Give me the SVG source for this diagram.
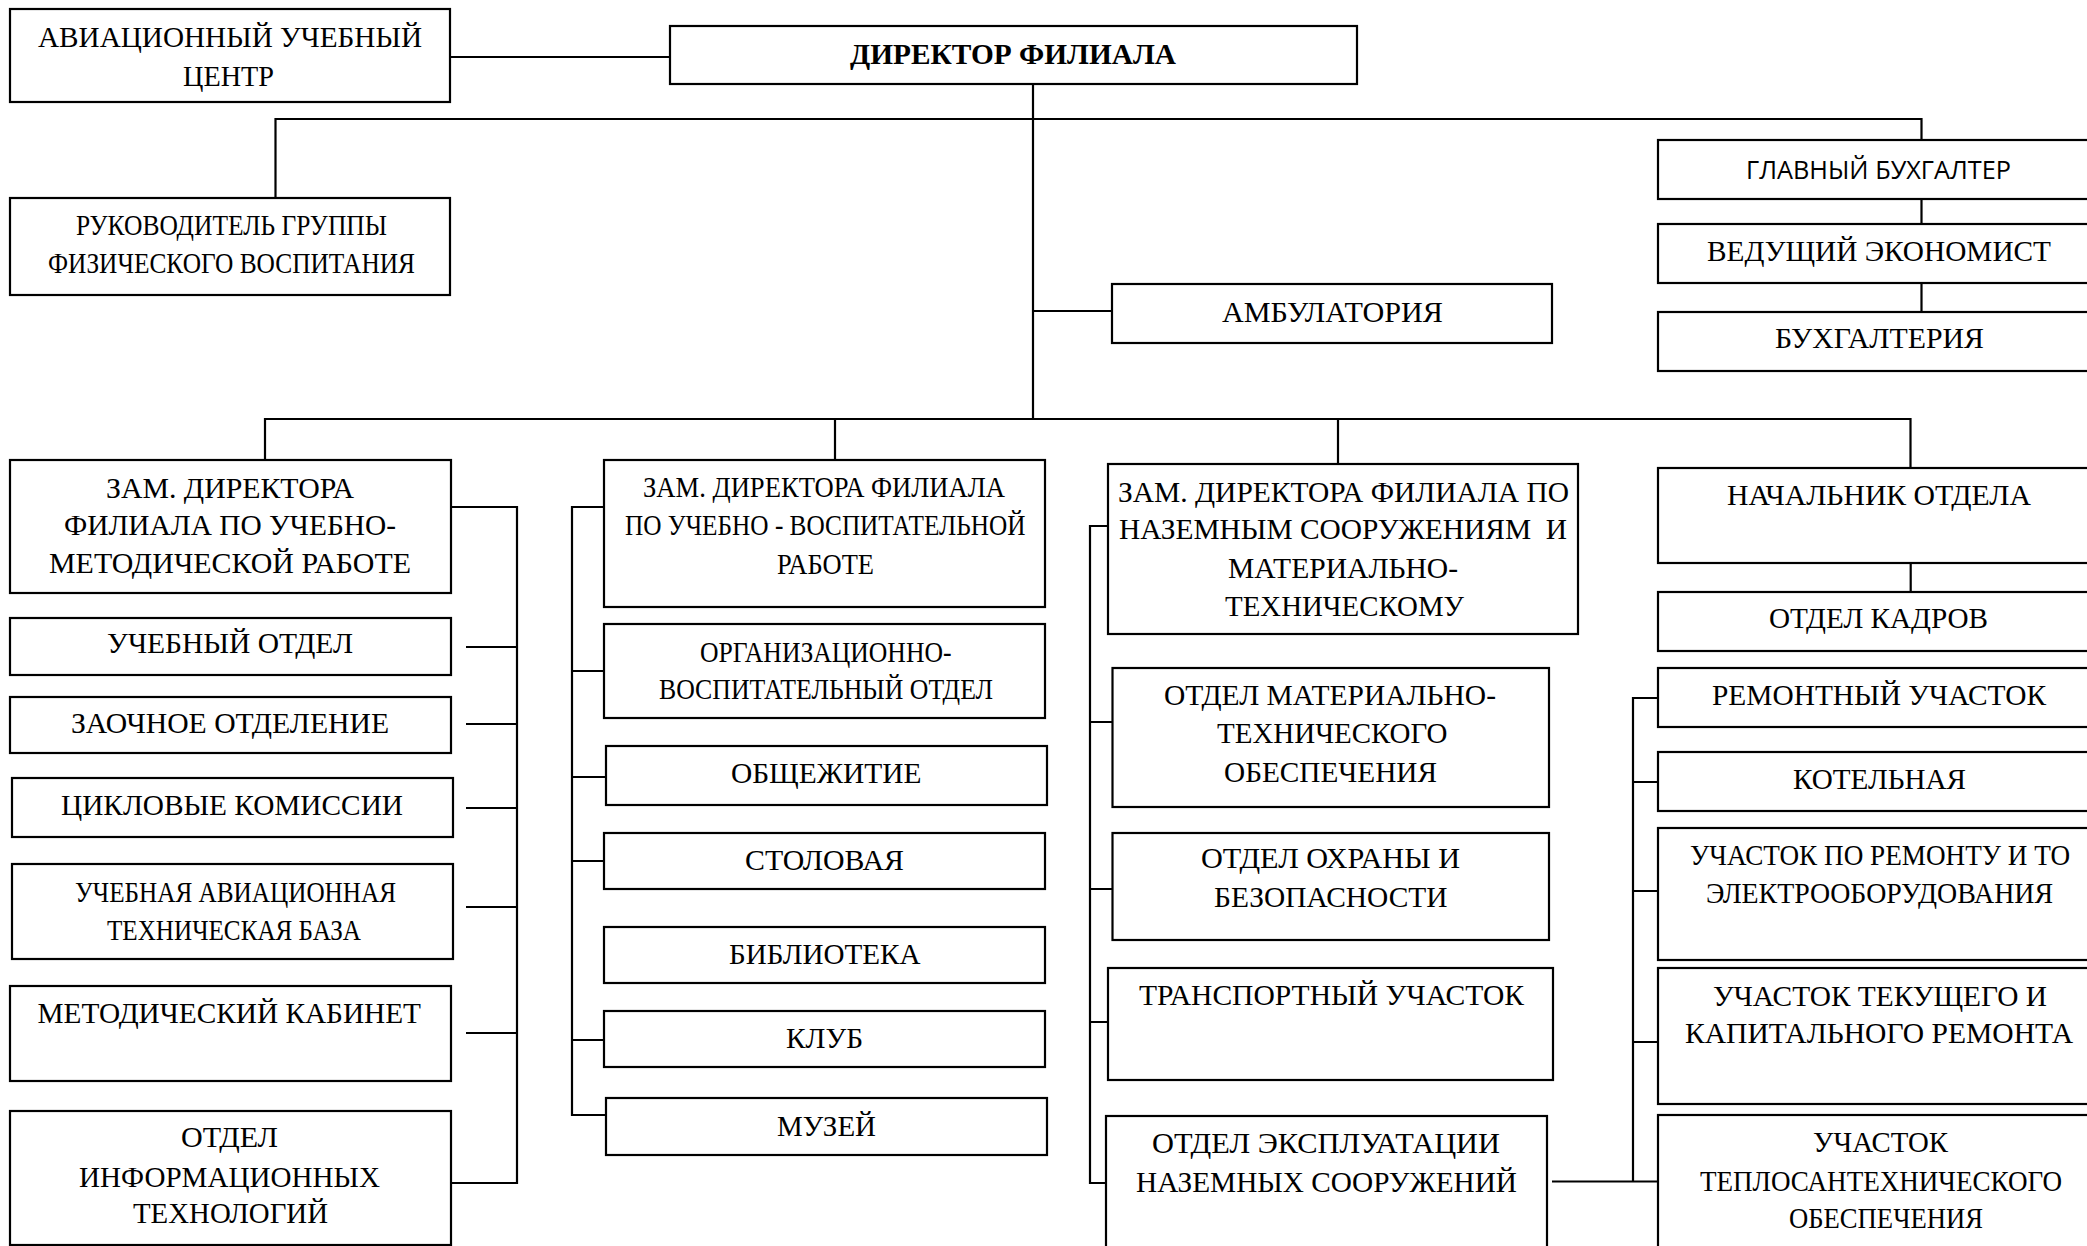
<svg xmlns="http://www.w3.org/2000/svg" width="2087" height="1246" viewBox="0 0 2087 1246">
<style>
.b{fill:#fff;stroke:#000;stroke-width:2.2}
.c{fill:none;stroke:#000;stroke-width:2.2}
text{font-family:"Liberation Serif","Times New Roman",serif;font-size:29.5px;fill:#000}
.bold{font-weight:bold}
.sans{font-family:"Open Sans","Liberation Sans",sans-serif;font-size:25px}
</style>
<rect x="0" y="0" width="2087" height="1246" fill="#fff"/>
<g id="connectors">
<path class="c" d="M450,57 H670"/>
<path class="c" d="M1033,84 V419"/>
<path class="c" d="M275.5,198 V119 H1921.5 V140"/>
<path class="c" d="M1033,311 H1112"/>
<path class="c" d="M1921.5,199 V224 M1921.5,283 V312"/>
<path class="c" d="M265,460 V419 H1910.5 V468 M835,419 V460 M1338,419 V464"/>
<path class="c" d="M451,507 H517 V1183 H451 M466,647 H517 M466,724 H517 M466,808 H517 M466,907 H517 M466,1033 H517"/>
<path class="c" d="M604,507 H572 V1115 H606 M572,671 H604 M572,777 H606 M572,861 H604 M572,1040 H604"/>
<path class="c" d="M1108,526 H1090 V1183 H1106 M1090,722 H1112.5 M1090,889 H1112.5 M1090,1022 H1124"/>
<path class="c" d="M1910.7,563 V592"/>
<path class="c" d="M1552,1181.5 H1658 M1658,698 H1633 V1181.5 M1633,782 H1658 M1633,891 H1658 M1633,1042 H1658"/>
</g>
<g id="n_auc"><rect class="b" x="10" y="9" width="440" height="93"/>
<text x="38" y="47" textLength="384" lengthAdjust="spacingAndGlyphs">АВИАЦИОННЫЙ УЧЕБНЫЙ</text>
<text x="183" y="86" textLength="91" lengthAdjust="spacingAndGlyphs">ЦЕНТР</text></g>
<g id="n_rgfv"><rect class="b" x="10" y="198" width="440" height="97"/>
<text x="76" y="235" textLength="311" lengthAdjust="spacingAndGlyphs">РУКОВОДИТЕЛЬ ГРУППЫ</text>
<text x="48" y="273" textLength="367" lengthAdjust="spacingAndGlyphs">ФИЗИЧЕСКОГО ВОСПИТАНИЯ</text></g>
<g id="n_dir"><rect class="b" x="670" y="26" width="687" height="58"/>
<text class="bold" x="850" y="64" textLength="326" lengthAdjust="spacingAndGlyphs">ДИРЕКТОР ФИЛИАЛА</text></g>
<g id="n_amb"><rect class="b" x="1112" y="284" width="440" height="59"/>
<text x="1222" y="322" textLength="221" lengthAdjust="spacingAndGlyphs">АМБУЛАТОРИЯ</text></g>
<g id="n_gb"><rect class="b" x="1658" y="140" width="442" height="59"/>
<text class="sans" x="1746" y="179" textLength="265" lengthAdjust="spacingAndGlyphs">ГЛАВНЫЙ БУХГАЛТЕР</text></g>
<g id="n_ve"><rect class="b" x="1658" y="224" width="442" height="59"/>
<text x="1707" y="261" textLength="344" lengthAdjust="spacingAndGlyphs">ВЕДУЩИЙ ЭКОНОМИСТ</text></g>
<g id="n_buh"><rect class="b" x="1658" y="312" width="442" height="59"/>
<text x="1775" y="348" textLength="209" lengthAdjust="spacingAndGlyphs">БУХГАЛТЕРИЯ</text></g>

<g id="n_zam1"><rect class="b" x="10" y="460" width="441" height="133"/>
<text x="106" y="498" textLength="248" lengthAdjust="spacingAndGlyphs">ЗАМ. ДИРЕКТОРА</text>
<text x="64" y="535" textLength="332" lengthAdjust="spacingAndGlyphs">ФИЛИАЛА ПО УЧЕБНО-</text>
<text x="49" y="573" textLength="362" lengthAdjust="spacingAndGlyphs">МЕТОДИЧЕСКОЙ РАБОТЕ</text></g>
<g id="n_uo"><rect class="b" x="10" y="618" width="441" height="57"/>
<text x="107" y="653" textLength="246" lengthAdjust="spacingAndGlyphs">УЧЕБНЫЙ ОТДЕЛ</text></g>
<g id="n_zo"><rect class="b" x="10" y="697" width="441" height="56"/>
<text x="71" y="733" textLength="318" lengthAdjust="spacingAndGlyphs">ЗАОЧНОЕ ОТДЕЛЕНИЕ</text></g>
<g id="n_ck"><rect class="b" x="12" y="778" width="441" height="59"/>
<text x="61" y="815" textLength="342" lengthAdjust="spacingAndGlyphs">ЦИКЛОВЫЕ КОМИССИИ</text></g>
<g id="n_uatb"><rect class="b" x="12" y="864" width="441" height="95"/>
<text x="75" y="902" textLength="321" lengthAdjust="spacingAndGlyphs">УЧЕБНАЯ АВИАЦИОННАЯ</text>
<text x="107" y="940" textLength="254" lengthAdjust="spacingAndGlyphs">ТЕХНИЧЕСКАЯ БАЗА</text></g>
<g id="n_mk"><rect class="b" x="10" y="986" width="441" height="95"/>
<text x="37.5" y="1023" textLength="383.5" lengthAdjust="spacingAndGlyphs">МЕТОДИЧЕСКИЙ КАБИНЕТ</text></g>
<g id="n_oit"><rect class="b" x="10" y="1111" width="441" height="134"/>
<text x="181" y="1147" textLength="97" lengthAdjust="spacingAndGlyphs">ОТДЕЛ</text>
<text x="79" y="1187" textLength="301" lengthAdjust="spacingAndGlyphs">ИНФОРМАЦИОННЫХ</text>
<text x="133" y="1223" textLength="195" lengthAdjust="spacingAndGlyphs">ТЕХНОЛОГИЙ</text></g>

<g id="n_zam2"><rect class="b" x="604" y="460" width="441" height="147"/>
<text x="643" y="497" textLength="362" lengthAdjust="spacingAndGlyphs">ЗАМ. ДИРЕКТОРА ФИЛИАЛА</text>
<text x="625" y="535" textLength="400.5" lengthAdjust="spacingAndGlyphs">ПО УЧЕБНО - ВОСПИТАТЕЛЬНОЙ</text>
<text x="777" y="574" textLength="97" lengthAdjust="spacingAndGlyphs">РАБОТЕ</text></g>
<g id="n_ovo"><rect class="b" x="604" y="624" width="441" height="94"/>
<text x="700" y="662" textLength="251.5" lengthAdjust="spacingAndGlyphs">ОРГАНИЗАЦИОННО-</text>
<text x="659" y="699" textLength="334" lengthAdjust="spacingAndGlyphs">ВОСПИТАТЕЛЬНЫЙ ОТДЕЛ</text></g>
<g id="n_obsh"><rect class="b" x="606" y="746" width="441" height="59"/>
<text x="731" y="783" textLength="190.5" lengthAdjust="spacingAndGlyphs">ОБЩЕЖИТИЕ</text></g>
<g id="n_stol"><rect class="b" x="604" y="833" width="441" height="56"/>
<text x="745" y="870" textLength="159" lengthAdjust="spacingAndGlyphs">СТОЛОВАЯ</text></g>
<g id="n_bib"><rect class="b" x="604" y="927" width="441" height="56"/>
<text x="729" y="964" textLength="191.5" lengthAdjust="spacingAndGlyphs">БИБЛИОТЕКА</text></g>
<g id="n_klub"><rect class="b" x="604" y="1011" width="441" height="56"/>
<text x="786" y="1048" textLength="77" lengthAdjust="spacingAndGlyphs">КЛУБ</text></g>
<g id="n_muz"><rect class="b" x="606" y="1098" width="441" height="57"/>
<text x="777" y="1136" textLength="99" lengthAdjust="spacingAndGlyphs">МУЗЕЙ</text></g>

<g id="n_zam3"><rect class="b" x="1108" y="464" width="470" height="170"/>
<text x="1118" y="502" textLength="451" lengthAdjust="spacingAndGlyphs">ЗАМ. ДИРЕКТОРА ФИЛИАЛА ПО</text>
<text x="1119" y="539" textLength="448" lengthAdjust="spacingAndGlyphs" xml:space="preserve">НАЗЕМНЫМ СООРУЖЕНИЯМ  И</text>
<text x="1228" y="578" textLength="230" lengthAdjust="spacingAndGlyphs">МАТЕРИАЛЬНО-</text>
<text x="1225" y="616" textLength="239" lengthAdjust="spacingAndGlyphs">ТЕХНИЧЕСКОМУ</text></g>
<g id="n_omto"><rect class="b" x="1112.5" y="668" width="436.5" height="139"/>
<text x="1164" y="705" textLength="332" lengthAdjust="spacingAndGlyphs">ОТДЕЛ МАТЕРИАЛЬНО-</text>
<text x="1217" y="743" textLength="230.5" lengthAdjust="spacingAndGlyphs">ТЕХНИЧЕСКОГО</text>
<text x="1224" y="782" textLength="213" lengthAdjust="spacingAndGlyphs">ОБЕСПЕЧЕНИЯ</text></g>
<g id="n_oob"><rect class="b" x="1112.5" y="833" width="436.5" height="107"/>
<text x="1201" y="868" textLength="259" lengthAdjust="spacingAndGlyphs">ОТДЕЛ ОХРАНЫ И</text>
<text x="1214" y="907" textLength="233.5" lengthAdjust="spacingAndGlyphs">БЕЗОПАСНОСТИ</text></g>
<g id="n_tr"><rect class="b" x="1108" y="968" width="445" height="112"/>
<text x="1139" y="1005" textLength="385" lengthAdjust="spacingAndGlyphs">ТРАНСПОРТНЫЙ УЧАСТОК</text></g>
<g id="n_oens"><rect class="b" x="1106" y="1116" width="441" height="150"/>
<text x="1152" y="1153" textLength="348" lengthAdjust="spacingAndGlyphs">ОТДЕЛ ЭКСПЛУАТАЦИИ</text>
<text x="1136" y="1192" textLength="381" lengthAdjust="spacingAndGlyphs">НАЗЕМНЫХ СООРУЖЕНИЙ</text></g>

<g id="n_nach"><rect class="b" x="1658" y="468" width="442" height="95"/>
<text x="1727" y="505" textLength="304" lengthAdjust="spacingAndGlyphs">НАЧАЛЬНИК ОТДЕЛА</text></g>
<g id="n_kadr"><rect class="b" x="1658" y="592" width="442" height="59"/>
<text x="1769" y="628" textLength="219" lengthAdjust="spacingAndGlyphs">ОТДЕЛ КАДРОВ</text></g>
<g id="n_rem"><rect class="b" x="1658" y="668" width="442" height="59"/>
<text x="1712" y="705" textLength="334" lengthAdjust="spacingAndGlyphs">РЕМОНТНЫЙ УЧАСТОК</text></g>
<g id="n_kot"><rect class="b" x="1658" y="752" width="442" height="59"/>
<text x="1793" y="789" textLength="173" lengthAdjust="spacingAndGlyphs">КОТЕЛЬНАЯ</text></g>
<g id="n_upr"><rect class="b" x="1658" y="828" width="442" height="132"/>
<text x="1690" y="865" textLength="380" lengthAdjust="spacingAndGlyphs">УЧАСТОК ПО РЕМОНТУ И ТО</text>
<text x="1706" y="903" textLength="347" lengthAdjust="spacingAndGlyphs">ЭЛЕКТРООБОРУДОВАНИЯ</text></g>
<g id="n_utk"><rect class="b" x="1658" y="968" width="442" height="136"/>
<text x="1713" y="1006" textLength="334" lengthAdjust="spacingAndGlyphs">УЧАСТОК ТЕКУЩЕГО И</text>
<text x="1685" y="1043" textLength="388" lengthAdjust="spacingAndGlyphs">КАПИТАЛЬНОГО РЕМОНТА</text></g>
<g id="n_uts"><rect class="b" x="1658" y="1115" width="442" height="150"/>
<text x="1813" y="1152" textLength="135" lengthAdjust="spacingAndGlyphs">УЧАСТОК</text>
<text x="1700" y="1191" textLength="362" lengthAdjust="spacingAndGlyphs">ТЕПЛОСАНТЕХНИЧЕСКОГО</text>
<text x="1789" y="1228" textLength="194" lengthAdjust="spacingAndGlyphs">ОБЕСПЕЧЕНИЯ</text></g>
</svg>
